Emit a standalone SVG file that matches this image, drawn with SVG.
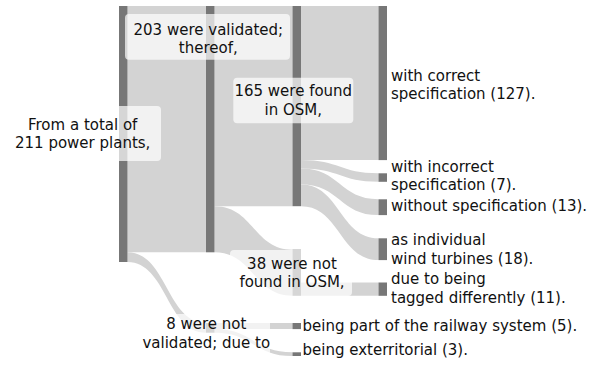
<svg xmlns="http://www.w3.org/2000/svg" width="600" height="365" viewBox="0 0 600 365">
<style>
.link{fill:#d3d3d3;stroke:none}
.node{fill:#777777;stroke:none}
.box{fill:#ffffff;fill-opacity:0.7;stroke:none}
text{font-family:"DejaVu Sans","Liberation Sans",sans-serif;font-size:15px;fill:#111111}
.c{text-anchor:middle}
</style>
<rect x="0" y="0" width="600" height="365" fill="#ffffff"/>
<g id="connectors">
<path class="link" d="M127.5 6 L206 6 L206 252.3 L127.5 252.3 Z"/>
<path class="link" d="M127.5 252.3 C166.75 252.3 166.75 323 206 323 L206 332.7 C166.75 332.7 166.75 262 127.5 262 Z"/>
<path class="link" d="M214.5 6 L292.5 6 L292.5 206.2 L214.5 206.2 Z"/>
<path class="link" d="M214.5 206.2 C253.5 206.2 253.5 249.7 292.5 249.7 L292.5 295.8 C253.5 295.8 253.5 252.3 214.5 252.3 Z"/>
<path class="link" d="M214.5 323 L292.5 323 L292.5 329.1 L214.5 329.1 Z"/>
<path class="link" d="M214.5 329.1 C253.5 329.1 253.5 352.3 292.5 352.3 L292.5 356 C253.5 356 253.5 332.7 214.5 332.7 Z"/>
<path class="link" d="M301 6 L378.5 6 L378.5 160.1 L301 160.1 Z"/>
<path class="link" d="M301 160.1 C339.75 160.1 339.75 173.3 378.5 173.3 L378.5 181.8 C339.75 181.8 339.75 168.6 301 168.6 Z"/>
<path class="link" d="M301 168.6 C339.75 168.6 339.75 199.3 378.5 199.3 L378.5 215.1 C339.75 215.1 339.75 184.4 301 184.4 Z"/>
<path class="link" d="M301 184.4 C339.75 184.4 339.75 238.3 378.5 238.3 L378.5 260.1 C339.75 260.1 339.75 206.2 301 206.2 Z"/>
<path class="link" d="M301 282.5 L378.5 282.5 L378.5 295.8 L301 295.8 Z"/>
</g>
<g id="node-total">
<rect class="node" x="119" y="6" width="8.5" height="256"/>
<rect class="box" x="4" y="106" width="157" height="55" rx="4"/>
<text class="c" x="82.7" y="130">From a total of</text>
<text class="c" x="82.7" y="147.7">211 power plants,</text>
</g>
<g id="node-validated">
<rect class="node" x="206" y="6" width="8.5" height="246.3"/>
<rect class="box" x="125" y="14" width="165" height="45.7" rx="4"/>
<text class="c" x="208.3" y="34.7">203 were validated;</text>
<text class="c" x="208.3" y="53">thereof,</text>
</g>
<g id="node-found">
<rect class="node" x="292.5" y="6" width="8.5" height="200.2"/>
<rect class="box" x="233.3" y="77.7" width="120" height="45.6" rx="4"/>
<text class="c" x="293.3" y="96.3">165 were found</text>
<text class="c" x="293.3" y="115">in OSM,</text>
</g>
<g id="node-not-found">
<rect class="node" x="292.5" y="249.7" width="8.5" height="46.1"/>
<rect class="box" x="230" y="250" width="122" height="46" rx="4"/>
<text class="c" x="292" y="269">38 were not</text>
<text class="c" x="292" y="287.3">found in OSM,</text>
</g>
<g id="node-not-validated">
<rect class="node" x="206" y="323" width="8.5" height="9.7"/>
<rect class="box" x="135" y="314" width="135" height="43" rx="4"/>
<text class="c" x="206.3" y="329.3">8 were not</text>
<text class="c" x="206.3" y="347.7">validated; due to</text>
</g>
<g id="node-correct">
<rect class="node" x="378.5" y="6" width="8.5" height="154.1"/>
<text x="391" y="81">with correct</text>
<text x="391" y="99.3">specification (127).</text>
</g>
<g id="node-incorrect">
<rect class="node" x="378.5" y="173.3" width="8.5" height="8.5"/>
<text x="391" y="172.3">with incorrect</text>
<text x="391" y="190">specification (7).</text>
</g>
<g id="node-without">
<rect class="node" x="378.5" y="199.3" width="8.5" height="15.8"/>
<text x="391" y="210.7">without specification (13).</text>
</g>
<g id="node-wind">
<rect class="node" x="378.5" y="238.3" width="8.5" height="21.8"/>
<text x="391" y="245">as individual</text>
<text x="391" y="264">wind turbines (18).</text>
</g>
<g id="node-tagged">
<rect class="node" x="378.5" y="282.5" width="8.5" height="13.3"/>
<text x="391" y="284.3">due to being</text>
<text x="391" y="302.7">tagged differently (11).</text>
</g>
<g id="node-railway">
<rect class="node" x="292.5" y="323" width="8.5" height="6.1"/>
<text x="302.5" y="331">being part of the railway system (5).</text>
</g>
<g id="node-exterritorial">
<rect class="node" x="292.5" y="352.3" width="8.5" height="3.7"/>
<text x="302.5" y="355">being exterritorial (3).</text>
</g>
</svg>
